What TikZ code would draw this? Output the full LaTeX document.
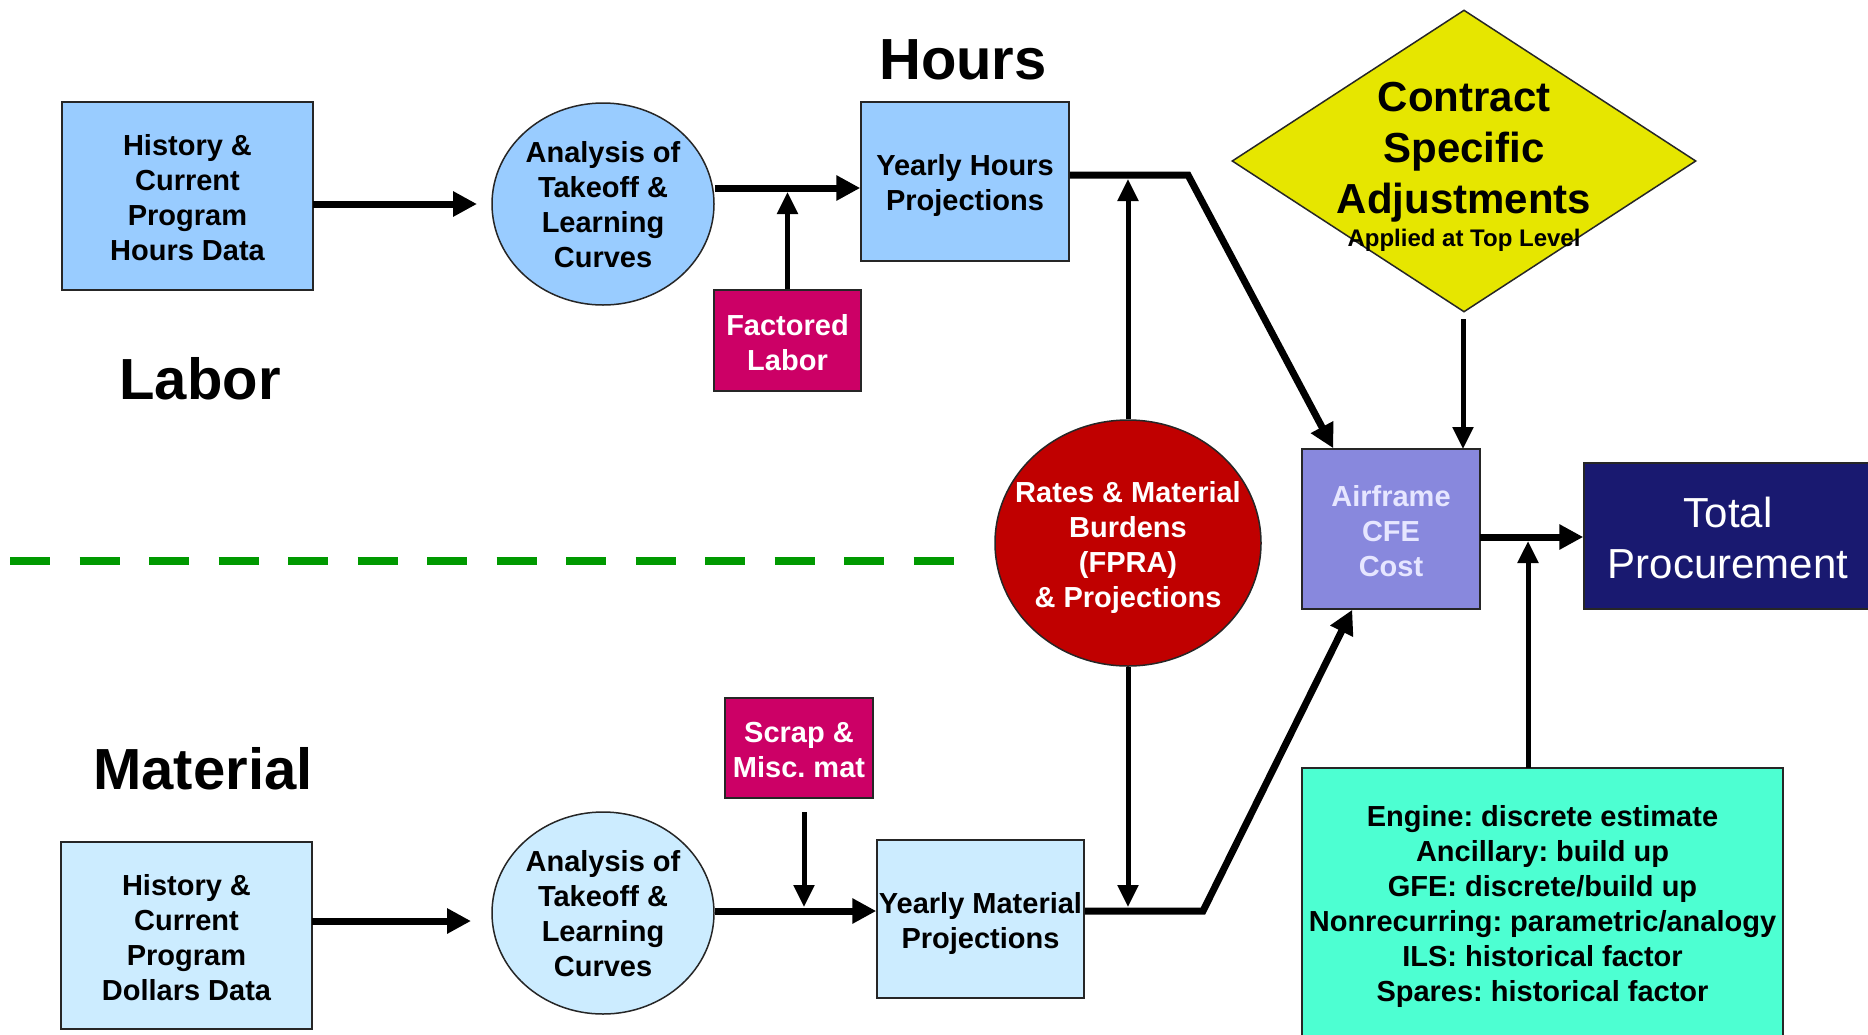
\documentclass[tikz,border=0pt]{standalone}
\usepackage{fontspec}
\setmainfont{Liberation Sans}
\usetikzlibrary{shapes.geometric,arrows.meta}
\definecolor{topblue}{HTML}{99CCFF}
\definecolor{lowblue}{HTML}{CCECFF}
\definecolor{magbox}{HTML}{CC0066}
\definecolor{ratesred}{HTML}{C00000}
\definecolor{diayel}{HTML}{E6E600}
\definecolor{airlav}{HTML}{8888DD}
\definecolor{airtxt}{HTML}{E6E6FF}
\definecolor{navy}{HTML}{191970}
\definecolor{aqua}{HTML}{4DFFD2}
\definecolor{dashgreen}{HTML}{009900}
\newcommand\myst{\rule{0pt}{25pt}}
\newcommand\mysta{\rule{0pt}{23pt}}
\newcommand\mystb{\rule{0pt}{30pt}}
\newcommand\mystc{\rule{0pt}{34pt}}
\tikzset{
  base/.style={draw=black!85, line width=1.5pt, inner sep=0pt, align=center,
               font=\frenchspacing\bfseries\fontsize{29}{35}\selectfont},
  boxr/.style={base, rectangle},
  ell/.style={base, ellipse},
  bigtitle/.style={inner sep=0pt, font=\bfseries\fontsize{58}{60}\selectfont},
  thk/.style={line width=7pt, -{Triangle[length=24pt,width=24pt]}},
  thn/.style={line width=5pt, -{Triangle[length=22pt,width=20pt]}},
}
\begin{document}
\begin{tikzpicture}[x=1pt,y=-1pt]
\useasboundingbox (0,0) rectangle (1868,1034);
\fill[white] (0,0) rectangle (1868,1034);

% titles
\node[bigtitle] (thours) at (963,60) {Hours};
\node[bigtitle] (tlabor) at (200,379) {Labor};
\node[bigtitle] (tmat) at (203,769) {Material};

% divider
\draw[dashgreen, line width=8pt, dash pattern=on 40pt off 29.5pt] (10,561) -- (954,561);

% labor row
\node[boxr, fill=topblue, minimum width=251, minimum height=188] (h1) at (187.5,196)
  {\myst History \&\\Current\\Program\\Hours Data};
\node[ell, fill=topblue, minimum width=222, minimum height=202] (e1) at (603,204)
  {\mysta Analysis of\\Takeoff \&\\Learning\\Curves};
\node[boxr, fill=topblue, minimum width=208, minimum height=159] (yh) at (965,181.5)
  {\mystb Yearly Hours\\Projections};
\node[boxr, fill=magbox, text=white, minimum width=147, minimum height=101] (fl) at (787.5,340.5)
  {\myst Factored\\Labor};

% diamond
\node[diamond, draw=black!85, line width=1.5pt, fill=diayel, inner sep=0pt, aspect=1.536,
      minimum width=464, minimum height=302] (dia) at (1464,161) {};
\node[inner sep=0pt, align=center, font=\bfseries\fontsize{42}{51}\selectfont] (diat) at (1464,152)
  {Contract\\Specific\\Adjustments};
\node[inner sep=0pt, font=\bfseries\fontsize{24}{28}\selectfont] (diasub) at (1464,240)
  {Applied at Top Level};

% center
\node[ell, fill=ratesred, text=white, inner xsep=-25pt, minimum width=266, minimum height=246] (rates) at (1128,543)
  {\mystb Rates \& Material\\Burdens\\(FPRA)\\\& Projections};
\node[boxr, fill=airlav, text=airtxt, minimum width=178, minimum height=160] (air) at (1391,529)
  {\myst Airframe\\CFE\\Cost};
\node[boxr, fill=navy, text=white, minimum width=288, minimum height=146,
      font=\fontsize{42}{51}\selectfont] (tot) at (1728,536)
  {\mystc Total\\Procurement};

% material row
\node[boxr, fill=lowblue, minimum width=251, minimum height=187] (h2) at (186.5,935.5)
  {\myst History \&\\Current\\Program\\Dollars Data};
\node[ell, fill=lowblue, minimum width=222, minimum height=202] (e2) at (603,913)
  {\mysta Analysis of\\Takeoff \&\\Learning\\Curves};
\node[boxr, fill=magbox, text=white, minimum width=148, minimum height=100] (sc) at (799,748)
  {\myst Scrap \&\\Misc. mat};
\node[boxr, fill=lowblue, minimum width=207, minimum height=158] (ym) at (980.5,919)
  {\mystb Yearly Material\\Projections};
\node[boxr, fill=aqua, minimum width=481, minimum height=272] (gr) at (1542.5,904)
  {\myst Engine: discrete estimate\\Ancillary: build up\\GFE: discrete/build up\\Nonrecurring: parametric/analogy\\ILS: historical factor\\Spares: historical factor};

% junction coordinates
\coordinate (a1) at (313,204);
\coordinate (a1t) at (477,204);
\coordinate (j1) at (787.5,188);
\coordinate (j1t) at (787.5,192);
\coordinate (j2) at (1188,175);
\coordinate (r1) at (1128,179);
\coordinate (r2) at (1128,907);
\coordinate (j3) at (1203,911);
\coordinate (j4) at (804,911);
\coordinate (s1) at (804,812);
\coordinate (s1t) at (804,907);
\coordinate (a2) at (312,921);
\coordinate (a2t) at (471,921);
\coordinate (d1) at (1463,319);
\coordinate (d1t) at (1463,449);
\coordinate (g1) at (1528,768);
\coordinate (g1t) at (1528,541);
\coordinate (t1) at (1480,537);

% connectors
\draw[thk] (a1) -- (a1t);
\draw[thk] (e1.east |- j1) -- (yh.west |- j1);
\draw[thn] (fl.north -| j1t) -- (j1t);
\draw[thk] (yh.east |- j2) -- (j2) -- ([xshift=32pt]air.north west);
\draw[thn] (rates.north) -- (r1);
\draw[thn] (rates.south) -- (r2);
\draw[thk] (ym.east |- j3) -- (j3) -- ([xshift=51pt]air.south west);
\draw[thk] (e2.east |- j4) -- (ym.west |- j4);
\draw[thn] (s1) -- (s1t);
\draw[thk] (a2) -- (a2t);
\draw[thn] (d1) -- (d1t);
\draw[thk] (t1) -- (tot.west |- t1);
\draw[thn] (g1) -- (g1t);
\end{tikzpicture}
\end{document}
